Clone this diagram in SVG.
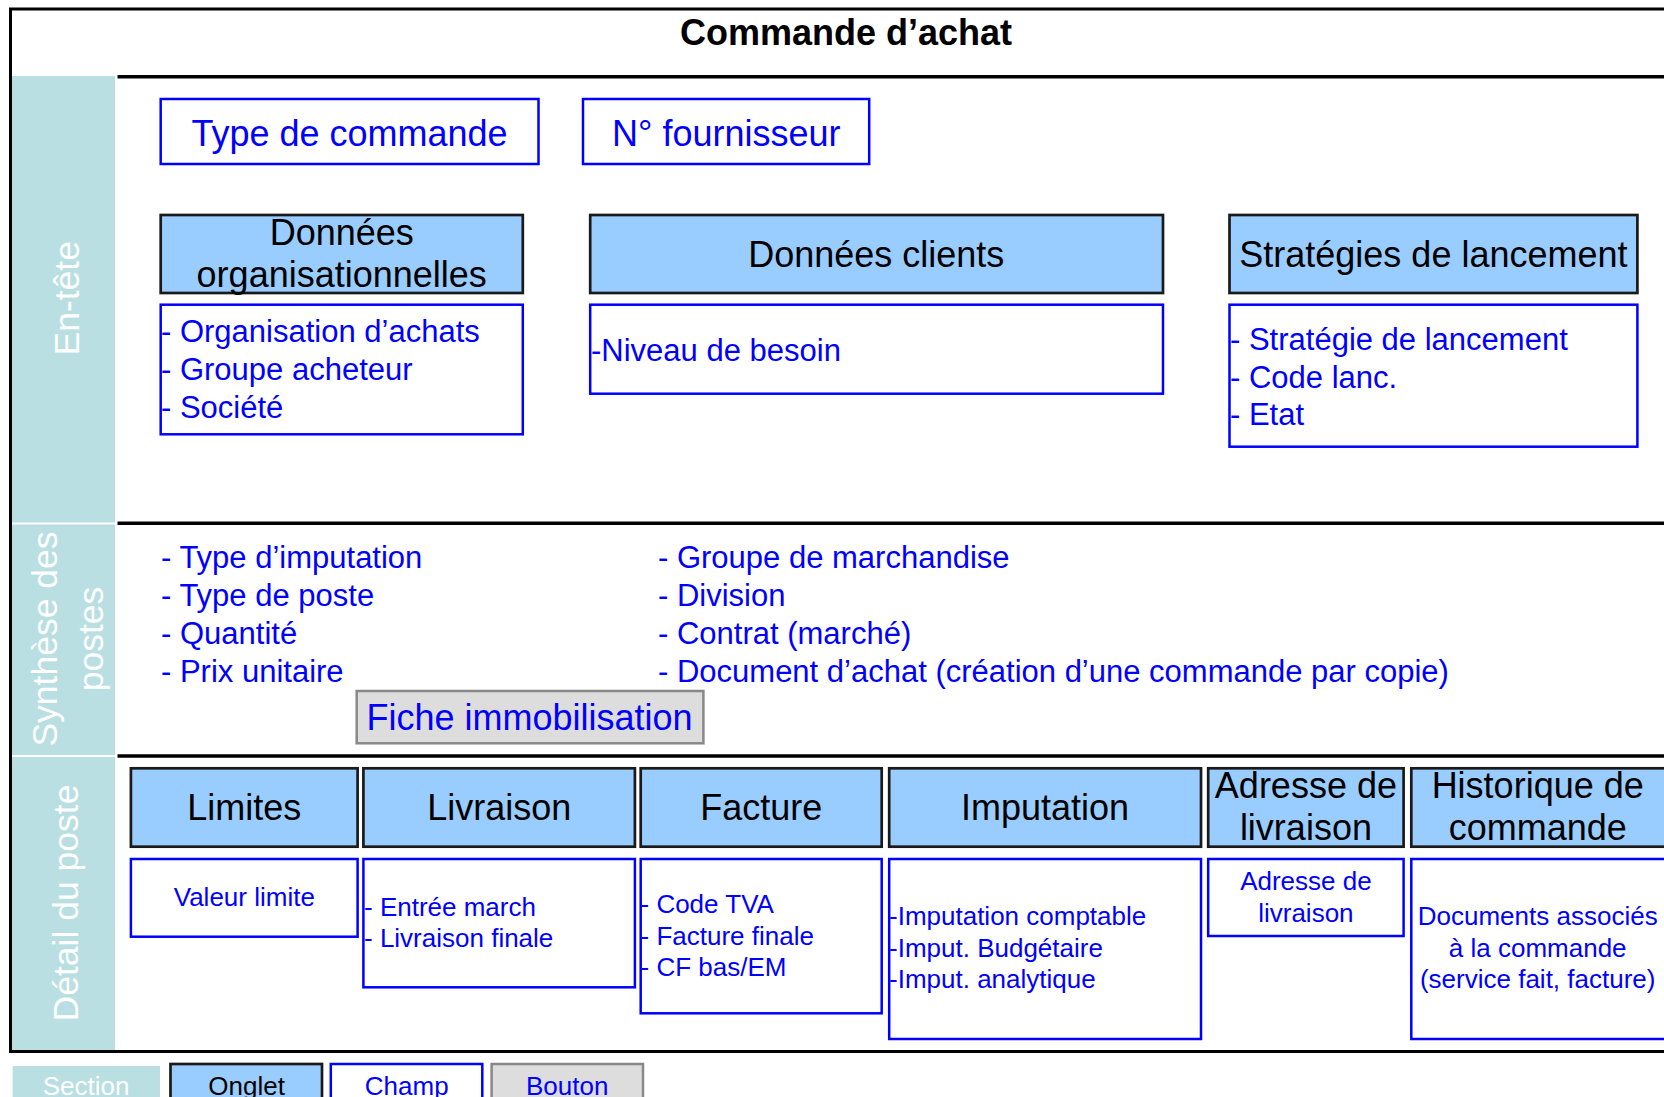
<svg xmlns="http://www.w3.org/2000/svg" width="1664" height="1097" viewBox="0 0 1664 1097">
<style>
text{font-family:"Liberation Sans",Arial,Helvetica,sans-serif}
.sec{fill:#B9DFE2}
.secl{fill:#FFFFFF;font-size:35.5px;text-anchor:middle}
.rule{stroke:#000;stroke-width:3.5}
.tab{fill:#99CCFF;stroke:#1A1A1A;stroke-width:2.7}
.fld{fill:#FFFFFF;stroke:#0000FF;stroke-width:2.5}
.btn{fill:#DDDDDD;stroke:#888888;stroke-width:2.5}
.tt{fill:#000;font-size:36px;text-anchor:middle}
.ft{fill:#0000FF;font-size:36px;text-anchor:middle}
.li{fill:#0000FF;font-size:31px}
.sm{fill:#0000FF;font-size:26px}
.smc{fill:#0000FF;font-size:26px;text-anchor:middle}
.lg{font-size:26px;text-anchor:middle}
</style>
<rect x="0" y="0" width="1664" height="1097" fill="#FFFFFF"/>
<rect x="10.5" y="9" width="1700" height="1042.5" fill="#FFFFFF" stroke="#000" stroke-width="3"/>
<text x="846" y="45" font-size="36" font-weight="bold" text-anchor="middle" fill="#000">Commande d’achat</text>

<g id="section-entete">
<rect class="sec" x="12" y="76" width="103" height="446.5"/>
<text class="secl" transform="translate(78.5 298.3) rotate(-90)">En-tête</text>
</g>
<g id="section-synthese">
<rect class="sec" x="12" y="524.5" width="103" height="230.5"/>
<text class="secl" transform="translate(57.4 639) rotate(-90)">Synthèse des</text>
<text class="secl" transform="translate(103 639) rotate(-90)">postes</text>
</g>
<g id="section-detail">
<rect class="sec" x="12" y="757" width="103" height="293"/>
<text class="secl" transform="translate(77.5 903) rotate(-90)">Détail du poste</text>
</g>

<g id="rules">
<line class="rule" x1="117.5" y1="76.7" x2="1670" y2="76.7"/>
<line class="rule" x1="117.5" y1="523.3" x2="1670" y2="523.3"/>
<line class="rule" x1="117.5" y1="756" x2="1670" y2="756"/>
</g>

<g id="type-commande">
<rect class="fld" x="160.7" y="99" width="377.8" height="65"/>
<text class="ft" x="349.5" y="145.5">Type de commande</text>
</g>
<g id="no-fournisseur">
<rect class="fld" x="583" y="99" width="286.2" height="65"/>
<text class="ft" x="726.3" y="145.5">N° fournisseur</text>
</g>

<g id="tab-donnees-org">
<rect class="tab" x="160.7" y="215" width="362.1" height="78"/>
<text class="tt" x="341.7" y="245">Données</text>
<text class="tt" x="341.7" y="287.3">organisationnelles</text>
</g>
<g id="fld-donnees-org">
<rect class="fld" x="160.7" y="304.7" width="362.1" height="129.6"/>
<text class="li" x="161" y="342.3">- Organisation d’achats</text>
<text class="li" x="161" y="380">- Groupe acheteur</text>
<text class="li" x="161" y="417.7">- Société</text>
</g>

<g id="tab-donnees-clients">
<rect class="tab" x="590.2" y="215" width="572.8" height="78"/>
<text class="tt" x="876.3" y="266.7">Données clients</text>
</g>
<g id="fld-donnees-clients">
<rect class="fld" x="590.2" y="304.7" width="572.8" height="89"/>
<text class="li" x="591" y="361">-Niveau de besoin</text>
</g>

<g id="tab-strategies">
<rect class="tab" x="1229.5" y="215" width="407.9" height="78"/>
<text class="tt" x="1433.4" y="266.7">Stratégies de lancement</text>
</g>
<g id="fld-strategies">
<rect class="fld" x="1229.5" y="304.7" width="407.9" height="142"/>
<text class="li" x="1230" y="350">- Stratégie de lancement</text>
<text class="li" x="1230" y="387.7">- Code lanc.</text>
<text class="li" x="1230" y="425">- Etat</text>
</g>

<g id="synthese-fields">
<text class="li" x="161" y="568.3">- Type d’imputation</text>
<text class="li" x="161" y="606">- Type de poste</text>
<text class="li" x="161" y="644">- Quantité</text>
<text class="li" x="161" y="681.7">- Prix unitaire</text>
<text class="li" x="658" y="568.3">- Groupe de marchandise</text>
<text class="li" x="658" y="606">- Division</text>
<text class="li" x="658" y="644">- Contrat (marché)</text>
<text class="li" x="658" y="681.7">- Document d’achat (création d’une commande par copie)</text>
</g>

<g id="btn-fiche">
<rect class="btn" x="356.7" y="691" width="346.7" height="52.3"/>
<text class="ft" x="529.5" y="730">Fiche immobilisation</text>
</g>

<g id="tab-limites">
<rect class="tab" x="130.9" y="768.3" width="226.7" height="78.4"/>
<text class="tt" x="244.3" y="820">Limites</text>
</g>
<g id="fld-limites">
<rect class="fld" x="130.9" y="859" width="226.7" height="77.7"/>
<text class="smc" x="244.3" y="906">Valeur limite</text>
</g>

<g id="tab-livraison">
<rect class="tab" x="363.4" y="768.3" width="271.5" height="78.4"/>
<text class="tt" x="499.2" y="820">Livraison</text>
</g>
<g id="fld-livraison">
<rect class="fld" x="363.4" y="859" width="271.5" height="128.3"/>
<text class="sm" x="364" y="916">- Entrée march</text>
<text class="sm" x="364" y="947">- Livraison finale</text>
</g>

<g id="tab-facture">
<rect class="tab" x="640.7" y="768.3" width="241" height="78.4"/>
<text class="tt" x="761.2" y="820">Facture</text>
</g>
<g id="fld-facture">
<rect class="fld" x="640.7" y="859" width="241" height="154.3"/>
<text class="sm" x="640.5" y="913">- Code TVA</text>
<text class="sm" x="640.5" y="945">- Facture finale</text>
<text class="sm" x="640.5" y="976">- CF bas/EM</text>
</g>

<g id="tab-imputation">
<rect class="tab" x="889.2" y="768.3" width="311.8" height="78.4"/>
<text class="tt" x="1045.1" y="820">Imputation</text>
</g>
<g id="fld-imputation">
<rect class="fld" x="889.2" y="859" width="311.8" height="180"/>
<text class="sm" x="889" y="925">-Imputation comptable</text>
<text class="sm" x="889" y="956.7">-Imput. Budgétaire</text>
<text class="sm" x="889" y="988.3">-Imput. analytique</text>
</g>

<g id="tab-adresse">
<rect class="tab" x="1208.2" y="768.3" width="195.4" height="78.4"/>
<text class="tt" x="1305.9" y="798.3">Adresse de</text>
<text class="tt" x="1305.9" y="840">livraison</text>
</g>
<g id="fld-adresse">
<rect class="fld" x="1208.2" y="859" width="195.4" height="77"/>
<text class="smc" x="1305.9" y="890">Adresse de</text>
<text class="smc" x="1305.9" y="921.7">livraison</text>
</g>

<g id="tab-historique">
<rect class="tab" x="1411.3" y="768.3" width="270" height="78.4"/>
<text class="tt" x="1537.7" y="798.3">Historique de</text>
<text class="tt" x="1537.7" y="840">commande</text>
</g>
<g id="fld-historique">
<rect class="fld" x="1411.3" y="859" width="270" height="180"/>
<text class="smc" x="1537.7" y="925">Documents associés</text>
<text class="smc" x="1537.7" y="956.7">à la commande</text>
<text class="smc" x="1537.7" y="988.3">(service fait, facture)</text>
</g>

<g id="legend-section">
<rect class="sec" x="12.6" y="1066" width="147.4" height="40"/>
<text class="lg" x="86" y="1094.5" fill="#FFFFFF">Section</text>
</g>
<g id="legend-onglet">
<rect class="tab" x="170.5" y="1064" width="151.5" height="45"/>
<text class="lg" x="246.6" y="1094.5" fill="#000">Onglet</text>
</g>
<g id="legend-champ">
<rect class="fld" x="330.8" y="1064" width="151.5" height="45"/>
<text class="lg" x="406.7" y="1094.5" fill="#0000FF">Champ</text>
</g>
<g id="legend-bouton">
<rect class="btn" x="491.6" y="1064" width="151.4" height="45"/>
<text class="lg" x="567.2" y="1094.5" fill="#0000FF">Bouton</text>
</g>
</svg>
